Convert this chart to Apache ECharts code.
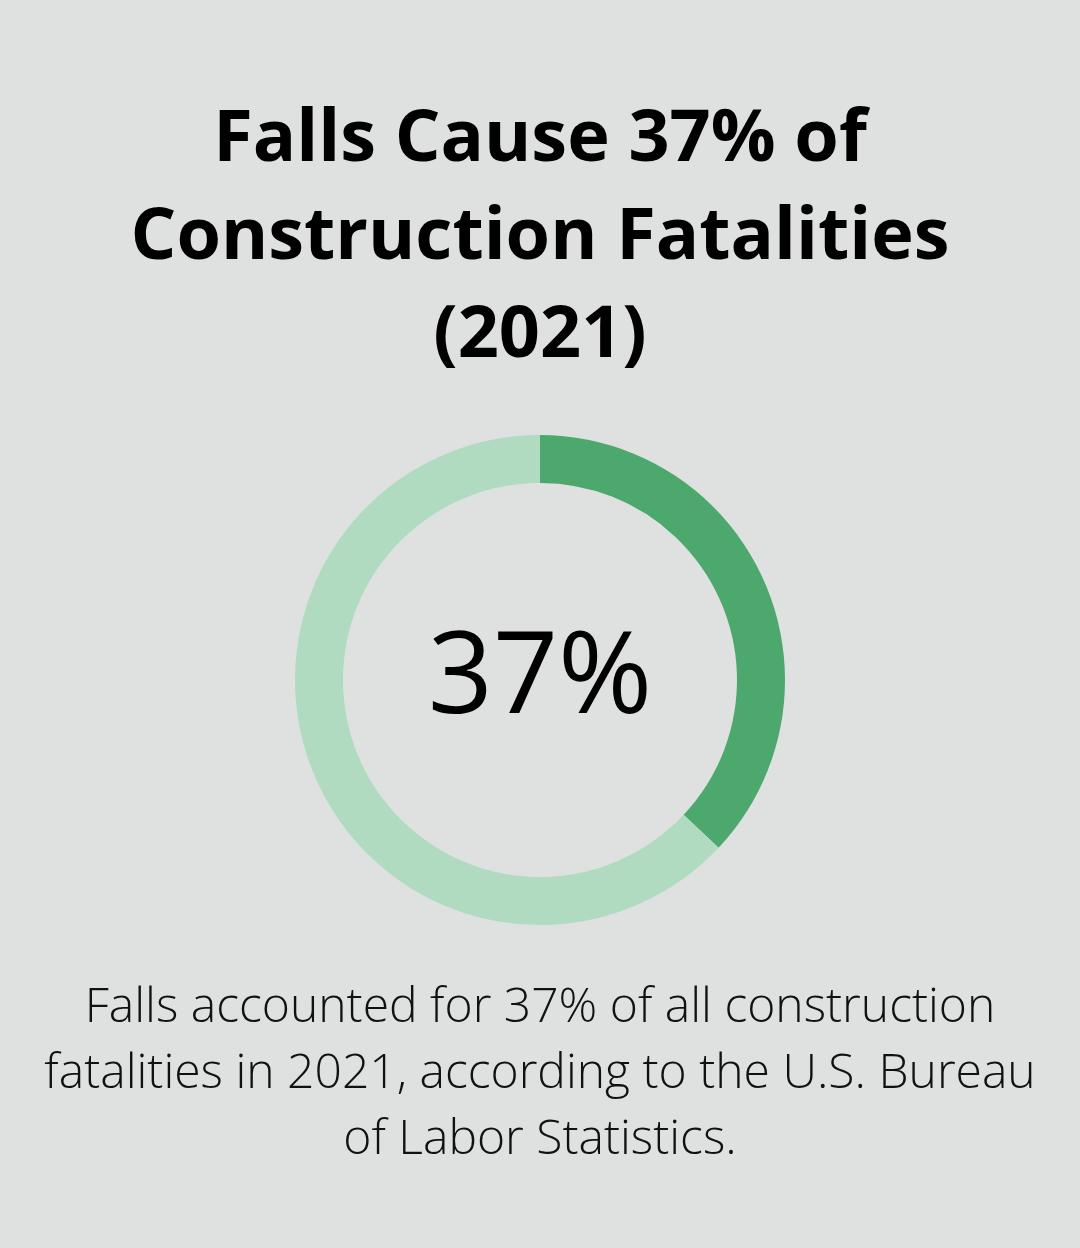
<!DOCTYPE html>
<html>
<head>
<meta charset="utf-8">
<script src="https://cdn.jsdelivr.net/npm/echarts@6/dist/echarts.min.js"></script>
<style>
  html, body { margin: 0; padding: 0; background: #dfe1e0; }
  #content { width: 1080px; height: 1248px; }
</style>
</head>
<body>
<div id="content"></div>
<script>
// data
var categories = ['Falls', 'Other causes'];
var shares = [37, 63];
var titleLines = ['Falls Cause 37% of', 'Construction Fatalities', '(2021)'];
var noteLines = [
  'Falls accounted for 37% of all construction',
  'fatalities in 2021, according to the U.S. Bureau',
  'of Labor Statistics.'
];

var myChart = echarts.init(document.getElementById('content'));

myChart.setOption({
  backgroundColor: '#dfe1e0',
  graphic: [{
    type: 'text',
    x: 540,
    y: 91,
    style: {
      text: titleLines.join('\n'),
      align: 'center',
      verticalAlign: 'top',
      font: 'bold 72px "Open Sans"',
      lineHeight: 98,
      fill: '#000'
    }
  }, {
    type: 'text',
    x: 540,
    y: 681,
    style: {
      text: shares[0] + '%',
      align: 'center',
      verticalAlign: 'middle',
      font: '114px "Open Sans"',
      fill: '#000'
    }
  }, {
    type: 'text',
    x: 540,
    y: 975,
    style: {
      text: noteLines.join('\n'),
      align: 'center',
      verticalAlign: 'top',
      font: '300 48px "Open Sans"',
      lineHeight: 66,
      fill: '#111'
    }
  }],
  series: [{
    type: 'pie',
    center: [540, 680],
    radius: [197, 245],
    startAngle: 90,
    clockwise: true,
    silent: true,
    label: { show: false },
    labelLine: { show: false },
    data: categories.map(function (c, i) {
      return {
        name: c,
        value: shares[i],
        itemStyle: { color: i === 0 ? '#4da86d' : '#b0dbc1' }
      };
    })
  }]
});
</script>
</body>
</html>
